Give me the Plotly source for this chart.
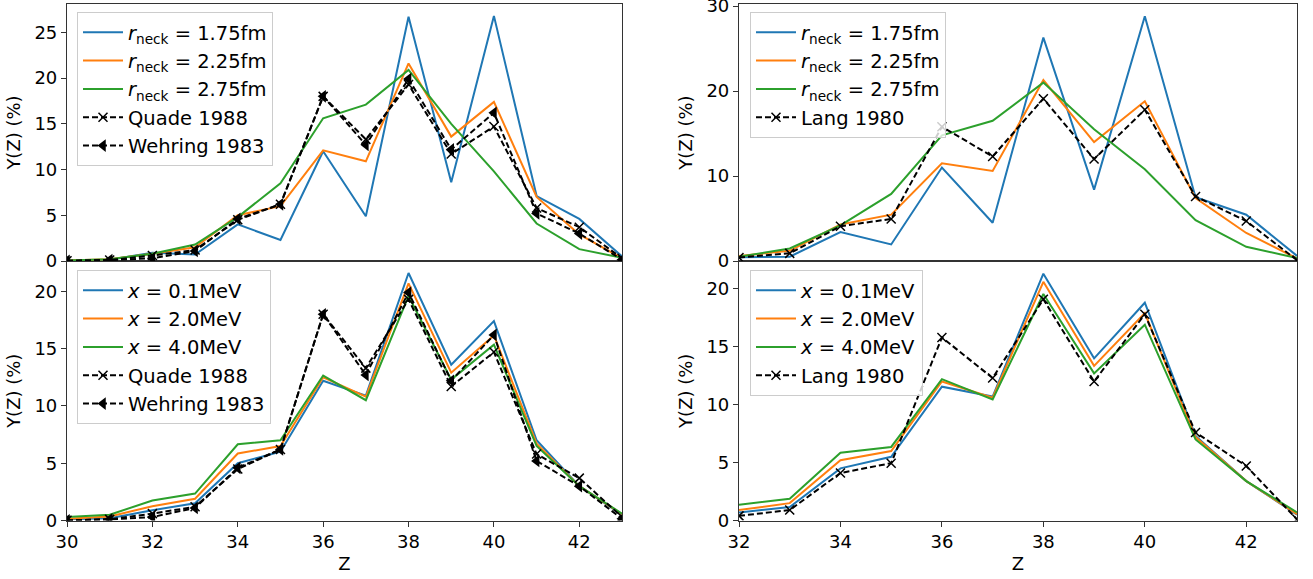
import plotly.graph_objects as go

# ---------------- data ----------------
Z_left = [30, 31, 32, 33, 34, 35, 36, 37, 38, 39, 40, 41, 42, 43]
Z_right = [32, 33, 34, 35, 36, 37, 38, 39, 40, 41, 42, 43]

# top-left: r_neck variation
tl_r175 = [0.05, 0.15, 0.9, 0.7, 4.0, 2.3, 12.0, 4.9, 26.7, 8.6, 26.8, 7.1, 4.6, 0.5]
tl_r225 = [0.05, 0.2, 0.8, 1.5, 5.0, 6.0, 12.1, 10.9, 21.6, 13.6, 17.4, 7.0, 2.9, 0.3]
tl_r275 = [0.05, 0.2, 0.8, 1.8, 4.8, 8.5, 15.6, 17.1, 20.9, 15.0, 9.8, 4.1, 1.3, 0.35]

# bottom-left: excitation energy variation
bl_x01 = [0.1, 0.2, 0.9, 1.5, 5.0, 6.0, 12.2, 10.9, 21.6, 13.6, 17.4, 7.0, 3.0, 0.5]
bl_x20 = [0.15, 0.35, 1.25, 1.9, 5.85, 6.5, 12.5, 10.8, 20.7, 12.9, 16.15, 6.7, 3.0, 0.55]
bl_x40 = [0.3, 0.5, 1.75, 2.35, 6.65, 7.0, 12.65, 10.5, 19.6, 12.3, 15.35, 6.5, 3.0, 0.6]

# experimental (left)
quade1988 = [0.02, 0.1, 0.6, 1.2, 4.5, 6.2, 18.0, 13.3, 19.3, 11.7, 14.7, 5.8, 3.7, 0.3]
wehring1983 = [0.02, 0.1, 0.3, 1.1, 4.6, 6.2, 18.0, 12.7, 19.9, 12.2, 16.2, 5.2, 3.0, 0.15]

# top-right: r_neck variation
tr_r175 = [0.45, 0.5, 3.4, 1.95, 11.0, 4.5, 26.3, 8.4, 28.8, 7.5, 5.45, 0.6]
tr_r225 = [0.6, 1.2, 4.3, 5.45, 11.5, 10.6, 21.3, 14.0, 18.8, 7.4, 3.3, 0.3]
tr_r275 = [0.5, 1.48, 4.2, 7.9, 14.8, 16.5, 21.0, 15.5, 10.8, 4.8, 1.67, 0.35]

# bottom-right: excitation energy variation
br_x01 = [0.7, 1.16, 4.5, 5.5, 11.55, 10.7, 21.3, 14.0, 18.8, 7.3, 3.4, 0.5]
br_x20 = [0.9, 1.5, 5.2, 6.0, 12.0, 10.6, 20.6, 13.35, 17.9, 7.2, 3.4, 0.55]
br_x40 = [1.35, 1.88, 5.85, 6.35, 12.2, 10.45, 19.55, 12.7, 16.9, 7.0, 3.4, 0.7]

# experimental (right)
lang1980 = [0.4, 0.9, 4.1, 4.95, 15.8, 12.3, 19.1, 12.0, 17.8, 7.6, 4.7, 0.1]

names_r = ["<i>r</i><sub>neck</sub> = 1.75fm", "<i>r</i><sub>neck</sub> = 2.25fm",
           "<i>r</i><sub>neck</sub> = 2.75fm"]
names_x = ["<i>x</i> = 0.1MeV", "<i>x</i> = 2.0MeV", "<i>x</i> = 4.0MeV"]
colors = ["#1f77b4", "#ff7f0e", "#2ca02c"]

# ---------------- layout geometry ----------------
W, H = 1313, 579
xl = [67 / W, 622 / W]
xr = [739 / W, 1297 / W]
y_top = [1 - 261 / H, 1 - 4 / H]
y_bot = [1 - 520.5 / H, 1 - 261 / H]

FONT = "DejaVu Sans"
TICK = 18
fig = go.Figure()

panels = [
    ("x3", "y3", "legend", Z_left, [tl_r175, tl_r225, tl_r275], names_r,
     [("Quade 1988", quade1988, "x-thin"), ("Wehring 1983", wehring1983, "triangle-left")]),
    ("x4", "y4", "legend2", Z_right, [tr_r175, tr_r225, tr_r275], names_r,
     [("Lang 1980", lang1980, "x-thin")]),
    ("x", "y", "legend3", Z_left, [bl_x01, bl_x20, bl_x40], names_x,
     [("Quade 1988", quade1988, "x-thin"), ("Wehring 1983", wehring1983, "triangle-left")]),
    ("x2", "y2", "legend4", Z_right, [br_x01, br_x20, br_x40], names_x,
     [("Lang 1980", lang1980, "x-thin")]),
]

for xa, ya, lg, Z, series, nms, exps in panels:
    for s, nm, c in zip(series, nms, colors):
        fig.add_trace(go.Scatter(x=Z, y=s, mode="lines", name=nm, xaxis=xa, yaxis=ya,
                                 legend=lg, line=dict(color=c, width=2)))
    for nm, s, sym in exps:
        if sym == "x-thin":
            mk = dict(symbol="x-thin", size=9, color="black", line=dict(color="black", width=1.5))
        else:
            mk = dict(symbol="triangle-left", size=11, color="black", line=dict(color="black", width=0))
        fig.add_trace(go.Scatter(x=Z, y=s, mode="lines+markers", name=nm, xaxis=xa, yaxis=ya,
                                 legend=lg, line=dict(color="black", width=2, dash="6px,3px"),
                                 marker=mk))

axis_common = dict(showline=True, mirror=True, linecolor="#333", linewidth=1.2,
                   ticks="outside", ticklen=5, tickwidth=1.2, tickcolor="#333",
                   showgrid=False, zeroline=False, automargin=False,
                   ticklabeloverflow="allow",
                   tickfont=dict(family=FONT, size=TICK, color="black"))

xt = dict(text="Z", font=dict(size=TICK), standoff=6)
yt = dict(text="Y(Z) (%)", font=dict(size=TICK), standoff=9)

fig.update_layout(
    width=W, height=H, margin=dict(l=0, r=0, t=0, b=0),
    paper_bgcolor="white", plot_bgcolor="white",
    font=dict(family=FONT, size=TICK, color="black"),
    xaxis=dict(domain=xl, range=[30, 43], anchor="y", tickmode="linear", tick0=30, dtick=2,
               title=xt, **axis_common),
    yaxis=dict(domain=y_bot, range=[0, 22.65], anchor="x", tickmode="linear", tick0=0, dtick=5,
               title=yt, **axis_common),
    xaxis2=dict(domain=xr, range=[32, 43], anchor="y2", tickmode="linear", tick0=32, dtick=2,
                title=xt, **axis_common),
    yaxis2=dict(domain=y_bot, range=[0, 22.4], anchor="x2", tickmode="linear", tick0=0, dtick=5,
                title=yt, **axis_common),
    xaxis3=dict(domain=xl, range=[30, 43], anchor="y3", showticklabels=False,
                **{**axis_common, "ticks": ""}),
    yaxis3=dict(domain=y_top, range=[0, 28.1], anchor="x3", tickmode="linear", tick0=0, dtick=5,
                title=yt, **axis_common),
    xaxis4=dict(domain=xr, range=[32, 43], anchor="y4", showticklabels=False,
                **{**axis_common, "ticks": ""}),
    yaxis4=dict(domain=y_top, range=[0, 30.25], anchor="x4", tickmode="linear", tick0=0, dtick=10,
                title=yt, **axis_common),
)

leg_common = dict(bgcolor="rgba(255,255,255,0.8)", bordercolor="#cccccc", borderwidth=1,
                  font=dict(family=FONT, size=19.5, color="black"),
                  xanchor="left", yanchor="top", itemwidth=40, tracegroupgap=0)
fig.update_layout(
    legend=dict(x=77 / W, y=1 - 12 / H, **leg_common),
    legend2=dict(x=750 / W, y=1 - 12 / H, **leg_common),
    legend3=dict(x=77 / W, y=1 - 270 / H, **leg_common),
    legend4=dict(x=750 / W, y=1 - 270 / H, **leg_common),
)

fig.write_html("out.html", config={"displayModeBar": False},
               post_script="document.body.style.margin='0';")
